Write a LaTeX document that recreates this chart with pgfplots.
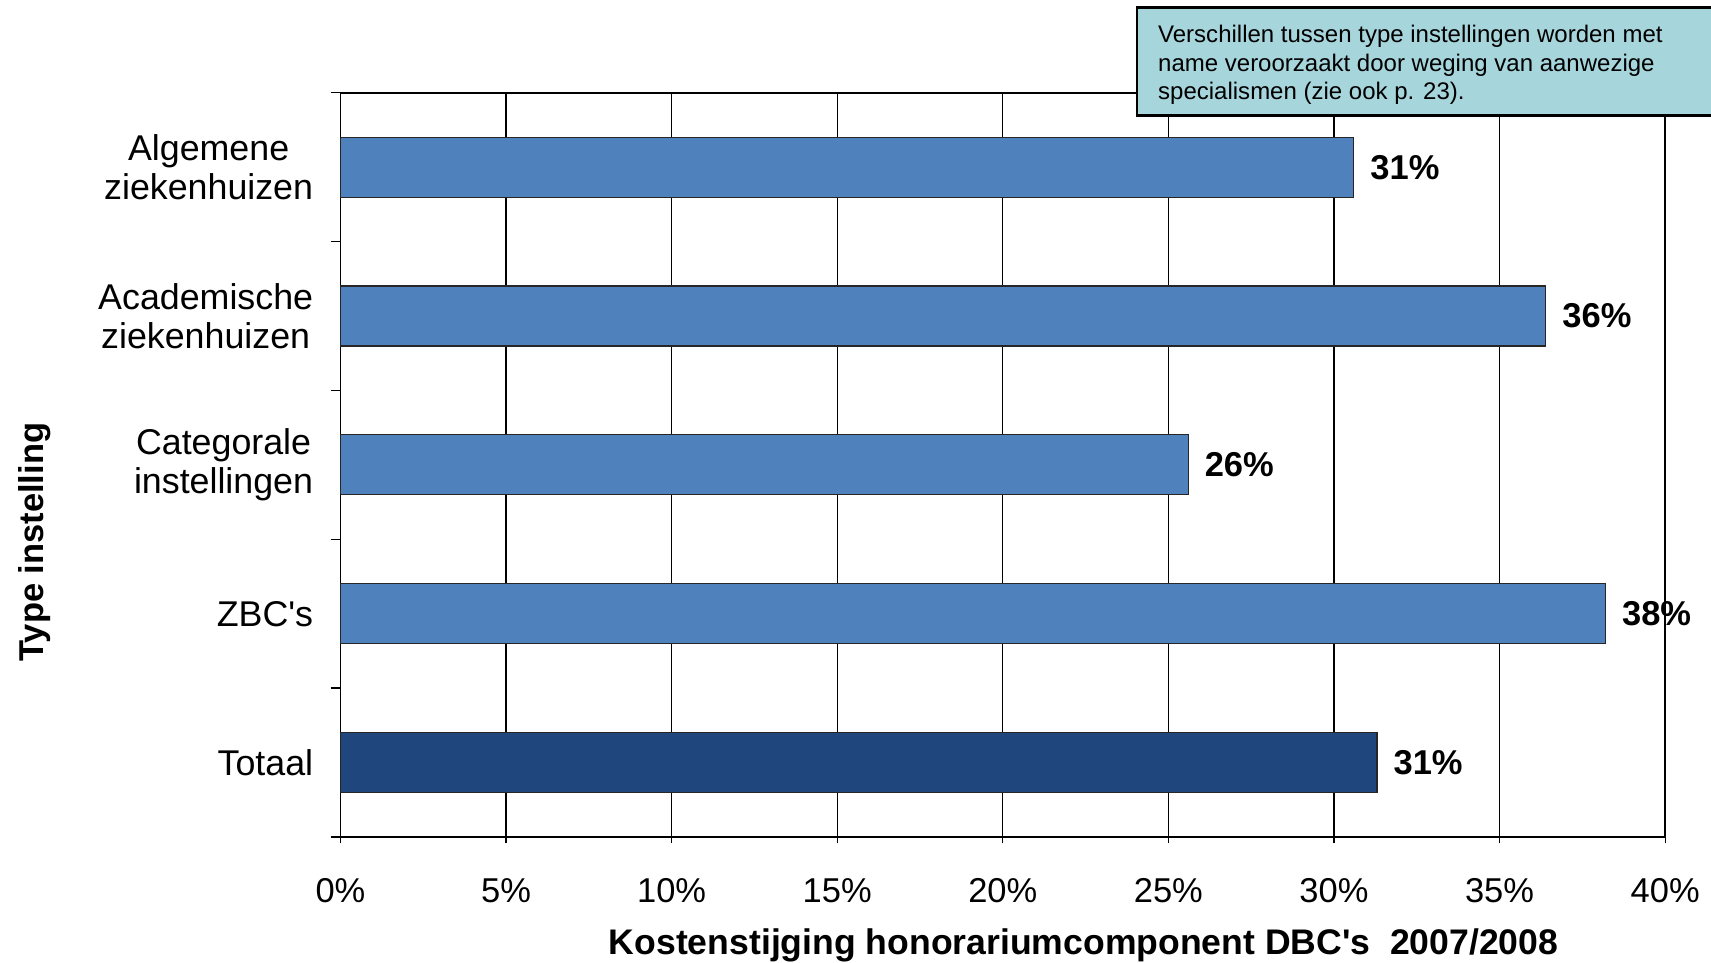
\documentclass[border=0pt]{standalone}
\usepackage{pgfplots}
\pgfplotsset{compat=1.18}
\usepackage{fontspec}
\setmainfont{Liberation Sans}[Ligatures=TeXOff]
\definecolor{barblue}{RGB}{79,129,189}
\definecolor{bardark}{RGB}{31,71,125}
\definecolor{notefill}{RGB}{166,213,219}
\begin{document}
\begin{tikzpicture}
\begin{axis}[
  at={(0,0)}, anchor=south west,
  width=607pt, height=341pt, scale only axis,
  clip=false,
  xmin=0, xmax=40, ymin=-0.5, ymax=4.5,
  xtick={0,5,...,40},
  xticklabels={0\%,5\%,10\%,15\%,20\%,25\%,30\%,35\%,40\%},
  ytick={0,1,2,3,4},
  yticklabels={Totaal, ZBC's, {Categorale\\instellingen}, {Academische\\ziekenhuizen}, {Algemene\\ziekenhuizen}},
  minor ytick={-0.5,0.5,...,4.5},
  xtick pos=bottom, ytick pos=left,
  tick align=outside,
  major tick length=3pt, minor tick length=4.5pt,
  major y tick style={draw=none},
  xmajorgrids, grid style={black, line width=0.6pt},
  axis line style={black, line width=0.7pt},
  every tick/.style={black, line width=0.6pt},
  xticklabel style={font=\fontsize{15.8}{18}\selectfont, anchor=center, yshift=-21.5pt},
  yticklabel style={font=\fontsize{16.4}{18}\selectfont, align=center, anchor=east, xshift=-6pt},
  xlabel={Kostenstijging honorariumcomponent DBC's\ \ 2007/2008},
  x label style={at={(axis description cs:0.561,-0.1455)}, anchor=center, font=\bfseries\fontsize{16.3}{20}\selectfont},
  ylabel={Type instelling},
  y label style={at={(axis description cs:-0.2306,0.396)}, anchor=center, font=\bfseries\fontsize{15.8}{18}\selectfont},
]
\addplot[xbar, bar width=27.5pt, bar shift=0pt, fill=barblue, draw=black!85, line width=0.5pt,
  point meta=explicit symbolic, nodes near coords,
  nodes near coords style={anchor=west, font=\bfseries\fontsize{15.8}{18}\selectfont, xshift=4pt}]
  coordinates {(30.6,4) [31\%] (36.4,3) [36\%] (25.6,2) [26\%] (38.2,1) [38\%]};
\addplot[xbar, bar width=27.5pt, bar shift=0pt, fill=bardark, draw=black!85, line width=0.5pt,
  point meta=explicit symbolic, nodes near coords,
  nodes near coords style={anchor=west, font=\bfseries\fontsize{15.8}{18}\selectfont, xshift=4pt}]
  coordinates {(31.3,0) [31\%]};
\end{axis}
\draw[fill=notefill, line width=1.2pt] (365pt,330.5pt) rectangle (680pt,380pt);
\node[anchor=north west, inner sep=0pt, align=left, font=\fontsize{11}{13}\selectfont] at (374.5pt,372pt)
  {Verschillen tussen type instellingen worden met\\name veroorzaakt door weging van aanwezige\\specialismen (zie ook p. 23).};
\pgfresetboundingbox
\useasboundingbox (-156pt,-57.5pt) rectangle (628pt,383.5pt);
\end{tikzpicture}
\end{document}
